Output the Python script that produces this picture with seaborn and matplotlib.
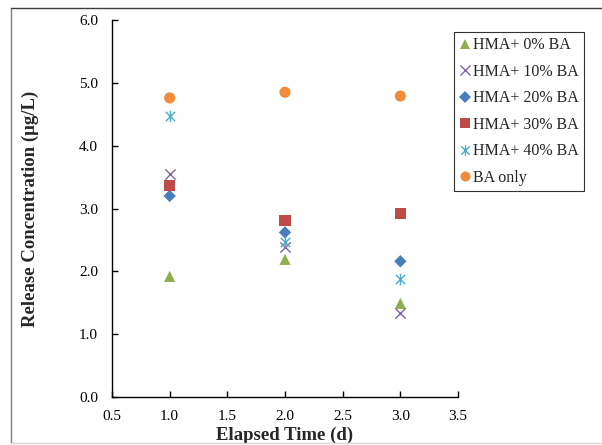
import matplotlib
matplotlib.use("Agg")
import matplotlib.pyplot as plt
import seaborn as sns
import pandas as pd
from matplotlib.lines import Line2D
from matplotlib.path import Path

sns.set_style("white")
plt.rcParams['font.family'] = ['Liberation Serif', 'DejaVu Serif']

days = [1.0, 2.0, 3.0]
hma_0 = [1.92, 2.19, 1.49]
hma_10 = [3.55, 2.38, 1.33]
hma_20 = [3.20, 2.62, 2.16]
hma_30 = [3.36, 2.81, 2.92]
hma_40 = [4.48, 2.47, 1.88]
ba_only = [4.76, 4.85, 4.79]

labels = ["HMA+ 0% BA", "HMA+ 10% BA", "HMA+ 20% BA", "HMA+ 30% BA", "HMA+ 40% BA", "BA only"]
series = [hma_0, hma_10, hma_20, hma_30, hma_40, ba_only]
colors = ["#8FAE4F", "#8064A2", "#4A7EBB", "#BE4B48", "#4BACC6", "#F08C3A"]

asterisk = Path([(0, -1), (0, 1), (-0.8, -0.8), (0.8, 0.8), (-0.8, 0.8), (0.8, -0.8)],
                [Path.MOVETO, Path.LINETO, Path.MOVETO, Path.LINETO, Path.MOVETO, Path.LINETO])
markers = ["^", "x", "D", "s", asterisk, "o"]
filled_flags = [True, False, True, True, False, True]
sizes = [64, 55, 40, 64, 70, 64]

fig = plt.figure(figsize=(6.02, 4.45), dpi=100)
ax = fig.add_axes([112/602, 1 - 397/445, (458-112)/602, (397-20)/445])

handles = []
for lab, vals, c, m, s, filled in zip(labels, series, colors, markers, sizes, filled_flags):
    df = pd.DataFrame({"day": days, "conc": vals})
    if filled:
        sns.scatterplot(data=df, x="day", y="conc", ax=ax, color=c, marker=m, s=s,
                        edgecolor="none", linewidth=0, zorder=3)
        h = Line2D([], [], linestyle="none", marker=m, markersize=(s ** 0.5) * 0.9,
                   color=c, markeredgewidth=0)
    else:
        sns.scatterplot(data=df, x="day", y="conc", ax=ax, color=c, marker=m, s=s,
                        edgecolor=c, linewidth=1.0, zorder=3)
        h = Line2D([], [], linestyle="none", marker=m, markersize=(s ** 0.5) * 0.9,
                   color=c, markeredgewidth=1.0, markerfacecolor="none", markeredgecolor=c)
    handles.append(h)

ax.set_xlim(0.5, 3.5)
ax.set_ylim(0, 6.0)
xt = [0.5, 1.0, 1.5, 2.0, 2.5, 3.0, 3.5]
yt = [0, 1, 2, 3, 4, 5, 6]
ax.set_xticks(xt)
ax.set_xticklabels([f"{v:.1f}" for v in xt])
ax.set_yticks(yt)
ax.set_yticklabels([f"{v:.1f}" for v in yt])
for sp in ["top", "right"]:
    ax.spines[sp].set_visible(False)
for sp in ["left", "bottom"]:
    ax.spines[sp].set_color("black")
    ax.spines[sp].set_linewidth(1.0)
ax.tick_params(axis="both", direction="in", length=4, width=1, colors="black",
               labelsize=11, labelcolor="black")
ax.tick_params(axis="y", pad=10)
ax.tick_params(axis="x", pad=9)
ax.tick_params(left=True, bottom=True)

ax.set_xlabel("Elapsed Time (d)", fontsize=13.5, fontweight="bold")
ax.set_ylabel("Release Concentration (μg/L)", fontsize=13.5, fontweight="bold")
ax.xaxis.set_label_coords(0.5, -0.078)
ax.yaxis.set_label_coords(-0.21, 0.5)

leg = fig.legend(handles=handles, labels=labels, loc="upper left",
                 bbox_to_anchor=(454/602, 1 - 32/445), borderaxespad=0,
                 fontsize=11.5, frameon=True, fancybox=False, handlelength=0.7,
                 handletextpad=0.2, labelspacing=0.66, borderpad=0.32)
leg.get_frame().set_edgecolor("black")
leg.get_frame().set_linewidth(0.8)

# outer chart frame
fig.add_artist(Line2D([11/602, 11/602], [1 - 8/445, 1 - 443/445],
                      transform=fig.transFigure, color="#7f7f7f", linewidth=1.0))
fig.add_artist(Line2D([11/602, 1.0], [1 - 8/445, 1 - 8/445],
                      transform=fig.transFigure, color="#3f3f3f", linewidth=1.0))
fig.add_artist(Line2D([11/602, 1.0], [1 - 443/445, 1 - 443/445],
                      transform=fig.transFigure, color="#d9d9d9", linewidth=1.0))

fig.savefig("out.png", dpi=100)
